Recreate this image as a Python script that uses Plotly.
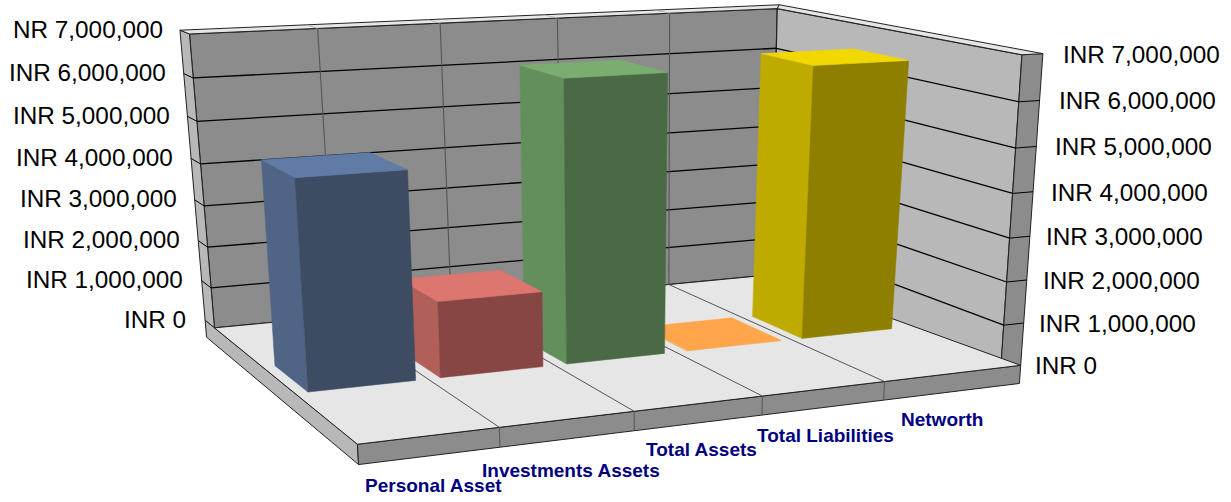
import numpy as np
import plotly.graph_objects as go

# ---------- data ----------
categories = ["Personal Asset", "Investments Assets", "Total Assets", "Total Liabilities", "Networth"]
values = [4700000, 1750000, 6450000, 20000, 6430000]
axis_values = [0, 1000000, 2000000, 3000000, 4000000, 5000000, 6000000, 7000000]
axis_labels_left = ["INR 0", "INR 1,000,000", "INR 2,000,000", "INR 3,000,000", "INR 4,000,000",
                    "INR 5,000,000", "INR 6,000,000", "NR 7,000,000"]
axis_labels_right = ["INR 0", "INR 1,000,000", "INR 2,000,000", "INR 3,000,000", "INR 4,000,000",
                     "INR 5,000,000", "INR 6,000,000", "INR 7,000,000"]
axis_max = 7000000

# ---------- view: a projective camera calibrated on the box of the chart ----------
W, H = 1231, 502
calib = [((0, 0, 0), (358, 444)), ((1, 0, 0), (999, 367)), ((0, 1, 0), (213, 328)), ((1, 1, 0), (775, 274)),
         ((0, 1, 1), (190, 33)), ((1, 1, 1), (775, 10)), ((1, 0, 1), (1025, 54)),
         ((.2, 0, 0), (500, 428)), ((.4, 0, 0), (634, 412)), ((.6, 0, 0), (762, 396)), ((.8, 0, 0), (883, 382)),
         ((.2, 1, 1), (319, 28)), ((.4, 1, 1), (440, 24)), ((.6, 1, 1), (557, 18)), ((.8, 1, 1), (668, 13))]
A, b = [], []
for (u, v, w), (x, y) in calib:
    A.append([u, v, w, 1, 0, 0, 0, 0, -x * u, -x * v, -x * w]); b.append(x)
    A.append([0, 0, 0, 0, u, v, w, 1, -y * u, -y * v, -y * w]); b.append(y)
p = np.linalg.lstsq(np.array(A, float), np.array(b, float), rcond=None)[0]
P = np.append(p, 1).reshape(3, 4)


def proj(u, v, w):
    r = P @ np.array([u, v, w, 1.0])
    return r[0] / r[2], r[1] / r[2]


def proj_bar(u, v, w):
    # the columns lean slightly more than the walls
    x, y = proj(u, v, w)
    return x + w * (2.5 + 3 * u ** 4), y


TU, TV, TS = 0.035, 0.08, 0.062
BACK, SIDE, FLOOR = "#8c8c8c", "#b8b8b8", "#e6e6e6"
fig = go.Figure()


def poly(pts, fill, line=None, lw=1.0, fn=proj):
    xy = [fn(*q) for q in pts]
    xs = [a for a, _ in xy] + [xy[0][0]]
    ys = [a for _, a in xy] + [xy[0][1]]
    fig.add_trace(go.Scatter(x=xs, y=ys, mode="lines", fill="toself", fillcolor=fill,
                             line=dict(color=line or fill, width=lw), hoverinfo="skip", showlegend=False))


def seg(a, b, color="#000000", lw=1.3):
    xy = [proj(*a), proj(*b)]
    fig.add_trace(go.Scatter(x=[xy[0][0], xy[1][0]], y=[xy[0][1], xy[1][1]], mode="lines",
                             line=dict(color=color, width=lw), hoverinfo="skip", showlegend=False))


# walls
poly([(0, 1, 0), (1, 1, 0), (1, 1, 1), (0, 1, 1)], BACK, "#222222", 1.2)
poly([(1, 1, 0), (1, 0, 0), (1, 0, 1), (1, 1, 1)], SIDE, "#222222", 1.2)
poly([(0, 1, 0), (0, 1 + TV, 0), (0, 1 + TV, 1), (0, 1, 1)], SIDE, "#222222", 1.0)
poly([(1, 0, 0), (1 + TU, 0, 0), (1 + TU, 0, 1), (1, 0, 1)], BACK, "#222222", 1.0)
poly([(0, 1, 1), (1, 1, 1), (1 + TU, 1 + TV, 1), (0, 1 + TV, 1)], FLOOR, "#222222", 1.0)
poly([(1, 0, 1), (1 + TU, 0, 1), (1 + TU, 1 + TV, 1), (1, 1, 1)], FLOOR, "#222222", 1.0)
# floor slab
poly([(0, 0, 0), (0, 0, -TS), (0, 1 + TV, -TS), (0, 1 + TV, 0)], SIDE, "#222222", 1.0)
poly([(0, 0, 0), (1 + TU, 0, 0), (1 + TU, 0, -TS), (0, 0, -TS)], BACK, "#222222", 1.0)
poly([(0, 0, 0), (1 + TU, 0, 0), (1, 1, 0), (0, 1, 0)], FLOOR, "#222222", 1.0)

# value gridlines
for val in axis_values:
    w = val / axis_max
    if 0 < w < 1:
        seg((0, 1, w), (1, 1, w))
        seg((1, 1, w), (1, 0, w))
        seg((0, 1, w), (0, 1 + TV, w), lw=1.0)
        seg((1, 0, w), (1 + TU, 0, w), lw=1.0)
# category gridlines
n = len(categories)
for i in range(1, n):
    u = i / n
    seg((u, 1, 0), (u, 1, 1), "#555555", 1.1)
    seg((u, 0, 0), (u, 1, 0), "#555555", 1.0)
    seg((u, 0, 0), (u, 0, -TS), "#555555", 1.0)
    seg((u, 1, 1), (u, 1 + TV, 1), "#aaaaaa", 0.8)

# bars
bar_colors = [("#5f7ba6", "#3d4c63", "#506585"),
              ("#dd766e", "#874643", "#b06059"),
              ("#7bac70", "#4a6a45", "#628f5c"),
              ("#ffa64d", "#ffa64d", "#ffa64d"),
              ("#f0d800", "#8e7f00", "#bfab00")]
MARGIN, V0, V1 = 0.019, 0.39, 0.62
for i in range(n - 1, -1, -1):
    u0 = (i / n) + MARGIN
    u1 = ((i + 1) / n) - MARGIN
    w = values[i] / axis_max
    top, front, side = bar_colors[i]
    poly([(u0, V0, 0), (u0, V1, 0), (u0, V1, w), (u0, V0, w)], side, None, 0.5, proj_bar)
    poly([(u0, V0, 0), (u1, V0, 0), (u1, V0, w), (u0, V0, w)], front, None, 0.5, proj_bar)
    poly([(u0, V0, w), (u1, V0, w), (u1, V1, w), (u0, V1, w)], top, None, 0.5, proj_bar)

# text
annotations = []
AX_FONT = dict(family="Liberation Sans, Arial, sans-serif", size=24.3, color="#000000")
for val, t in zip(axis_values, axis_labels_left):
    w = val / axis_max
    x, y = proj(0, 1 + TV, w)
    annotations.append(dict(x=x - 18 + w * 2, y=y - 1, text=t, xref="x", yref="y", showarrow=False, xanchor="right",
                            yanchor="middle", font=AX_FONT, borderpad=0))
for val, t in zip(axis_values, axis_labels_right):
    w = val / axis_max
    x, y = proj(1 + TU, 0, w)
    annotations.append(dict(x=x + 13 + w * 6, y=y + 0.5, text=t, xref="x", yref="y", showarrow=False, xanchor="left",
                            yanchor="middle", font=AX_FONT, borderpad=0))
CAT_DX = [3, 3, 3, 2, 0]
CAT_DY = [30, 32, 27, 28, 27]
for i, t in enumerate(categories):
    x, y = proj((i + .5) / n, 0, -TS)
    annotations.append(dict(x=x + CAT_DX[i], y=y + CAT_DY[i], text=t, xref="x", yref="y", showarrow=False,
                            xanchor="center", yanchor="middle", borderpad=0,
                            font=dict(family="Liberation Sans, Arial, sans-serif", size=19, color="#000080",
                                      weight="bold")))

fig.update_layout(width=W, height=H, margin=dict(l=0, r=0, t=0, b=0), paper_bgcolor="white", plot_bgcolor="white",
                  xaxis=dict(range=[0, W], visible=False, fixedrange=True),
                  yaxis=dict(range=[H, 0], visible=False, fixedrange=True),
                  showlegend=False, annotations=annotations)
fig.write_html("out.html", config={"displayModeBar": False},
               post_script="document.body.style.margin='0';document.documentElement.style.overflow='hidden';")
